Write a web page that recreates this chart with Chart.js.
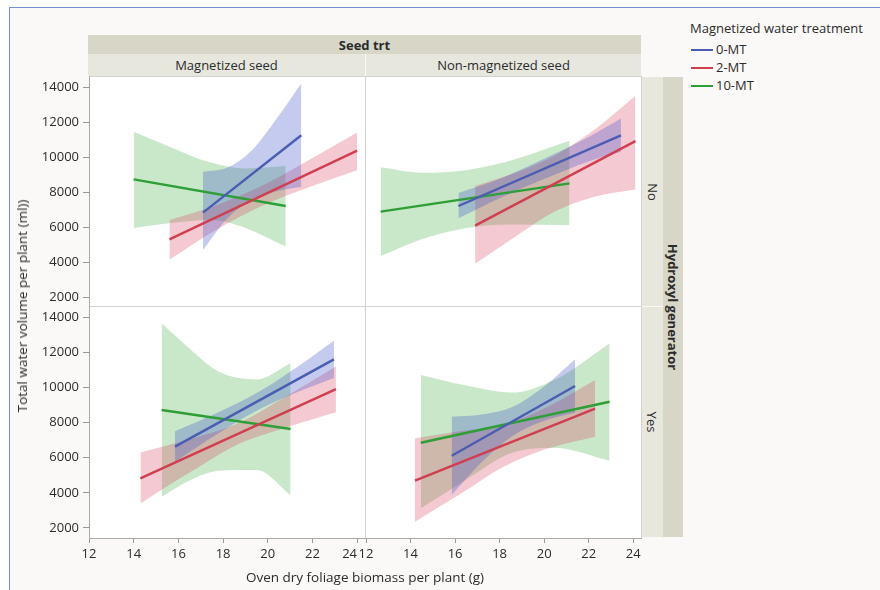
<!DOCTYPE html>
<html>
<head>
<meta charset="utf-8">
<script src="https://cdn.jsdelivr.net/npm/chart.js@4.4.1/dist/chart.umd.min.js"></script>
<style>
  body { margin: 0; background: #fff; font-family: 'Open Sans', sans-serif; color: #2b2b2b; }
  #fig { position: relative; width: 880px; height: 590px; overflow: hidden; }
  #frame { position: absolute; left: 9px; top: 7px; width: 880px; height: 600px;
           border-left: 1px solid #7290d2; border-top: 1px solid #7290d2; background: #fbf9f7; }
  .strip { position: absolute; display: flex; align-items: center; justify-content: center;
           font-size: 13px; color: #2b2b2b; white-space: nowrap; }
  .dark { background: #d8d6c6; }
  .light { background: #e7e7de; }
  .vert span { display: inline-block; transform: rotate(90deg); }
  .panel { position: absolute; background: #fff; box-sizing: border-box; border: 1px solid #d2d2d2; }
  canvas { position: absolute; }
  .txt { position: absolute; font-size: 13px; color: #2b2b2b; white-space: nowrap; }
  .title { font-size: 13.5px; }
  .key { position: absolute; left: 691px; width: 22px; height: 2px; }
</style>
</head>
<body>
<div id="fig">
  <div id="frame"></div>

  <div class="strip dark" style="left:88px;top:35px;width:553px;height:19px;"><b>Seed trt</b></div>
  <div class="strip light" style="left:88px;top:54px;width:277px;height:22px;">Magnetized seed</div>
  <div class="strip light" style="left:366px;top:54px;width:275px;height:22px;">Non-magnetized seed</div>

  <div class="strip light vert" style="left:642px;top:77px;width:21px;height:229px;"><span>No</span></div>
  <div class="strip light vert" style="left:642px;top:307px;width:21px;height:230px;"><span>Yes</span></div>
  <div class="strip dark vert" style="left:663px;top:77px;width:20px;height:460px;"><span><b>Hydroxyl generator</b></span></div>

  <div class="panel" style="left:89px;top:76px;width:277px;height:231px;"></div>
  <div class="panel" style="left:365px;top:76px;width:277px;height:231px;"></div>
  <div class="panel" style="left:89px;top:306px;width:277px;height:233px;"></div>
  <div class="panel" style="left:365px;top:306px;width:277px;height:233px;"></div>

  <canvas id="magNo"></canvas>
  <canvas id="nonNo"></canvas>
  <canvas id="magYes"></canvas>
  <canvas id="nonYes"></canvas>

  <div class="txt title" style="left:22px;top:306px;transform:translate(-50%,-50%) rotate(-90deg);">Total water volume per plant (ml))</div>
  <div class="txt title" style="left:365px;top:577px;transform:translate(-50%,-50%);">Oven dry foliage biomass per plant (g)</div>

  <div class="txt" style="left:690px;top:19px;">Magnetized water treatment</div>
  <div class="key" style="top:49px;background:#4a5db2;"></div>
  <div class="txt" style="left:716px;top:40px;">0-MT</div>
  <div class="key" style="top:67px;background:#cf3f50;"></div>
  <div class="txt" style="left:716px;top:58px;">2-MT</div>
  <div class="key" style="top:85px;background:#2e9f37;"></div>
  <div class="txt" style="left:716px;top:76px;">10-MT</div>
</div>

<script>
  // axis ticks
  const xTicks = [12, 14, 16, 18, 20, 22, 24];
  const yTicks = [2000, 4000, 6000, 8000, 10000, 12000, 14000];

  // Magnetized seed / hydroxyl No
  const magNoMt0X = [17.1, 18.2, 19.3, 20.4, 21.5];
  const magNoMt0Fit = [6820, 11240];
  const magNoMt0Lo = [4690, 6500, 7600, 8050, 8300];
  const magNoMt0Hi = [9150, 9400, 10400, 12200, 14200];
  const magNoMt2X = [15.6, 17.7, 19.8, 22.0, 24.0];
  const magNoMt2Fit = [5290, 10360];
  const magNoMt2Lo = [4150, 5850, 7250, 8350, 9250];
  const magNoMt2Hi = [6400, 7250, 8400, 9950, 11400];
  const magNoMt10X = [14.0, 15.5, 17.4, 19.0, 20.8];
  const magNoMt10Fit = [8720, 7200];
  const magNoMt10Lo = [5950, 6200, 6400, 5950, 4880];
  const magNoMt10Hi = [11450, 10650, 9700, 9350, 9480];

  // Non-magnetized seed / hydroxyl No
  const nonNoMt0X = [16.15, 18.0, 20.0, 22.0, 23.45];
  const nonNoMt0Fit = [7200, 11240];
  const nonNoMt0Lo = [6500, 7650, 8750, 9750, 10300];
  const nonNoMt0Hi = [7950, 8750, 9900, 11150, 12200];
  const nonNoMt2X = [16.9, 18.7, 20.5, 22.3, 24.1];
  const nonNoMt2Fit = [6080, 10910];
  const nonNoMt2Lo = [3900, 5450, 6900, 7750, 8150];
  const nonNoMt2Hi = [8350, 9100, 10100, 11600, 13500];
  const nonNoMt10X = [12.66, 14.5, 16.5, 18.5, 21.14];
  const nonNoMt10Fit = [6880, 8490];
  const nonNoMt10Lo = [4340, 5300, 5950, 6150, 6110];
  const nonNoMt10Hi = [9410, 9100, 9250, 9800, 10930];

  // Magnetized seed / hydroxyl Yes
  const magYesMt0X = [15.85, 17.6, 19.4, 21.2, 22.96];
  const magYesMt0Fit = [6630, 11590];
  const magYesMt0Lo = [5760, 7230, 8600, 9660, 10530];
  const magYesMt0Hi = [7500, 8470, 9600, 11060, 12650];
  const magYesMt2X = [14.3, 16.5, 18.7, 20.9, 23.05];
  const magYesMt2Fit = [4820, 9900];
  const magYesMt2Lo = [3400, 5150, 6780, 7750, 8580];
  const magYesMt2Hi = [6300, 7050, 7970, 9550, 11180];
  const magYesMt10X = [15.25, 16.5, 17.8, 19.5, 21.02];
  const magYesMt10Fit = [8710, 7630];
  const magYesMt10Lo = [3780, 4700, 5250, 5300, 3880];
  const magYesMt10Hi = [13640, 12200, 10900, 10450, 11370];

  // Non-magnetized seed / hydroxyl Yes
  const nonYesMt0X = [15.85, 17.2, 18.6, 20.0, 21.39];
  const nonYesMt0Fit = [6110, 10080];
  const nonYesMt0Lo = [3880, 5750, 7250, 8100, 8560];
  const nonYesMt0Hi = [8330, 8450, 8900, 10050, 11600];
  const nonYesMt2X = [14.2, 16.2, 18.2, 20.2, 22.29];
  const nonYesMt2Fit = [4690, 8790];
  const nonYesMt2Lo = [2360, 3900, 5500, 6530, 7190];
  const nonYesMt2Hi = [7100, 7500, 7900, 8930, 10420];
  const nonYesMt10X = [14.46, 16.5, 18.5, 20.5, 22.94];
  const nonYesMt10Fit = [6850, 9180];
  const nonYesMt10Lo = [3120, 4750, 6250, 6550, 5830];
  const nonYesMt10Hi = [10700, 10100, 9700, 10450, 12500];

  const colors = {
    mt0: { line: '#4a5db2', band: 'rgba(62, 82, 200, 0.30)' },
    mt2: { line: '#cf3f50', band: 'rgba(220, 60, 95, 0.28)' },
    mt10: { line: '#2e9f37', band: 'rgba(60, 170, 60, 0.28)' }
  };

  // lower edge, upper edge filled down to it, then the fitted line
  function seriesSets(x, lo, hi, fit, col, base) {
    return [
      { data: x.map((v, i) => ({ x: v, y: lo[i] })), borderColor: 'transparent', borderWidth: 0,
        pointRadius: 0, fill: false, cubicInterpolationMode: 'monotone', order: 2 },
      { data: x.map((v, i) => ({ x: v, y: hi[i] })), borderColor: 'transparent', borderWidth: 0,
        pointRadius: 0, fill: base, backgroundColor: col.band, cubicInterpolationMode: 'monotone', order: 2 },
      { data: [{ x: x[0], y: fit[0] }, { x: x[x.length - 1], y: fit[1] }], borderColor: col.line,
        borderWidth: 2.4, pointRadius: 0, fill: false, order: 0 }
    ];
  }

  function panelSets(p) {
    return [].concat(
      seriesSets(p.mt0[0], p.mt0[2], p.mt0[3], p.mt0[1], colors.mt0, 0),
      seriesSets(p.mt2[0], p.mt2[2], p.mt2[3], p.mt2[1], colors.mt2, 3),
      seriesSets(p.mt10[0], p.mt10[2], p.mt10[3], p.mt10[1], colors.mt10, 6)
    );
  }

  function makePanel(id, area, yRange, showY, showX, sets) {
    const padL = showY ? 60 : 15, padT = 15, padR = 15, padB = showX ? 32 : 15;
    const cv = document.getElementById(id);
    cv.width = area.r - area.l + padL + padR;
    cv.height = area.b - area.t + padT + padB;
    cv.style.left = (area.l - padL) + 'px';
    cv.style.top = (area.t - padT) + 'px';

    new Chart(cv, {
      type: 'line',
      data: { datasets: sets },
      options: {
        responsive: false,
        animation: false,
        devicePixelRatio: 1,
        layout: { padding: { left: showY ? 0 : padL, top: padT, right: padR, bottom: showX ? 0 : padB } },
        plugins: { legend: { display: false }, tooltip: { enabled: false } },
        scales: {
          x: {
            type: 'linear', min: 12, max: 24.35, display: showX,
            afterBuildTicks: s => { s.ticks = xTicks.map(v => ({ value: v })); },
            afterFit: s => { if (showX) s.height = 32; },
            grid: { drawOnChartArea: false, tickLength: 5, color: '#999' },
            border: { display: true, color: '#aaa' },
            ticks: {
              padding: 3, color: '#2b2b2b', font: { family: 'Open Sans', size: 13 },
              maxRotation: 0, autoSkip: false,
              // the last label of the left column is nudged left, as in the facet layout
              callback: v => (showY && v === 24) ? '24\u2002\u2002\u2009' : String(v)
            }
          },
          y: {
            type: 'linear', min: yRange[0], max: yRange[1], display: showY,
            afterBuildTicks: s => { s.ticks = yTicks.map(v => ({ value: v })); },
            afterFit: s => { if (showY) s.width = 60; },
            grid: { drawOnChartArea: false, tickLength: 6, color: '#999' },
            border: { display: true, color: '#aaa' },
            ticks: { padding: 4, color: '#2b2b2b', font: { family: 'Open Sans', size: 13 }, callback: v => String(v) }
          }
        }
      }
    });
  }

  const topRange = [1486, 14629];
  const bottomRange = [1431, 14626];

  makePanel('magNo', { l: 89, r: 365, t: 76, b: 306 }, topRange, true, false, panelSets({
    mt0: [magNoMt0X, magNoMt0Fit, magNoMt0Lo, magNoMt0Hi],
    mt2: [magNoMt2X, magNoMt2Fit, magNoMt2Lo, magNoMt2Hi],
    mt10: [magNoMt10X, magNoMt10Fit, magNoMt10Lo, magNoMt10Hi]
  }));
  makePanel('nonNo', { l: 366, r: 641, t: 76, b: 306 }, topRange, false, false, panelSets({
    mt0: [nonNoMt0X, nonNoMt0Fit, nonNoMt0Lo, nonNoMt0Hi],
    mt2: [nonNoMt2X, nonNoMt2Fit, nonNoMt2Lo, nonNoMt2Hi],
    mt10: [nonNoMt10X, nonNoMt10Fit, nonNoMt10Lo, nonNoMt10Hi]
  }));
  makePanel('magYes', { l: 89, r: 365, t: 306, b: 538 }, bottomRange, true, true, panelSets({
    mt0: [magYesMt0X, magYesMt0Fit, magYesMt0Lo, magYesMt0Hi],
    mt2: [magYesMt2X, magYesMt2Fit, magYesMt2Lo, magYesMt2Hi],
    mt10: [magYesMt10X, magYesMt10Fit, magYesMt10Lo, magYesMt10Hi]
  }));
  makePanel('nonYes', { l: 366, r: 641, t: 306, b: 538 }, bottomRange, false, true, panelSets({
    mt0: [nonYesMt0X, nonYesMt0Fit, nonYesMt0Lo, nonYesMt0Hi],
    mt2: [nonYesMt2X, nonYesMt2Fit, nonYesMt2Lo, nonYesMt2Hi],
    mt10: [nonYesMt10X, nonYesMt10Fit, nonYesMt10Lo, nonYesMt10Hi]
  }));
</script>
</body>
</html>
